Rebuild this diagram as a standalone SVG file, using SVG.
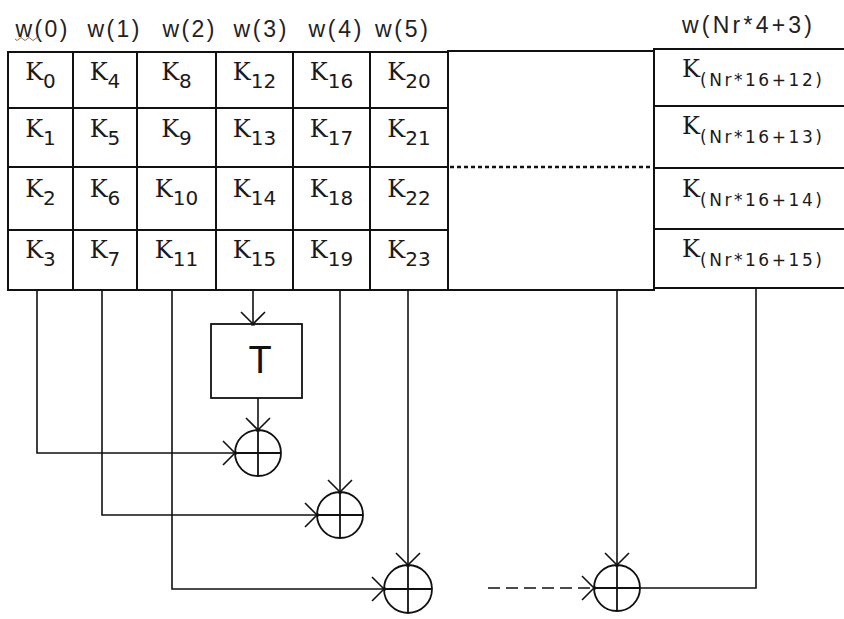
<svg xmlns="http://www.w3.org/2000/svg" width="844" height="619" viewBox="0 0 844 619">
<style>
.cell{fill:#fff;stroke:#111;stroke-width:2}
.k{font-family:"DejaVu Serif",serif;font-size:24px;fill:#1a1a1a;text-anchor:middle}
.kr{font-family:"DejaVu Serif",serif;font-size:24px;fill:#1a1a1a}
.sub{font-family:"DejaVu Sans",sans-serif;font-size:20px}
.subr{font-family:"DejaVu Sans",sans-serif;font-size:17px}
.hd{font-family:"Liberation Sans",sans-serif;font-size:23px;fill:#222;text-anchor:middle}
.ln{fill:none;stroke:#111;stroke-width:1.6}
.xor{fill:none;stroke:#111;stroke-width:1.8}
</style>
<defs>
<marker id="arr" markerUnits="userSpaceOnUse" viewBox="-16 -14 20 28" refX="0" refY="0" markerWidth="20" markerHeight="28" orient="auto">
<path d="M-12,-12 L1.5,1.5 M-12,12 L1.5,-1.5" fill="none" stroke="#111" stroke-width="1.6"/>
</marker>
</defs>
<rect width="844" height="619" fill="#fff"/>

<g id="headers">
<text class="hd" x="41.5" y="37" textLength="52">w(0)</text>
<path d="M15,39 q2,3 4,0 t4,0 t4,0 t4,0 t4,0 t4,0" fill="none" stroke="#7a7a55" stroke-width="1"/>
<text class="hd" x="113.5" y="37" textLength="52">w(1)</text>
<text class="hd" x="188.5" y="37" textLength="52">w(2)</text>
<text class="hd" x="260" y="37" textLength="53">w(3)</text>
<text class="hd" x="335" y="37" textLength="53">w(4)</text>
<text class="hd" x="401.5" y="37" textLength="53">w(5)</text>
<text class="hd" x="747" y="33" textLength="130">w(Nr*4+3)</text>
</g>

<g id="middle-box">
<rect class="cell" x="448" y="51" width="206" height="239"/>
<line x1="450" y1="167" x2="652" y2="167" stroke="#111" stroke-width="2.6" stroke-dasharray="4 3"/>
</g>

<g id="col0">
<g id="k0"><rect class="cell" x="8" y="52" width="65" height="56"/><text class="k" x="40.5" y="80">K<tspan class="sub" dy="8">0</tspan></text></g>
<g id="k1"><rect class="cell" x="8" y="108" width="65" height="59"/><text class="k" x="40.5" y="137">K<tspan class="sub" dy="8">1</tspan></text></g>
<g id="k2"><rect class="cell" x="8" y="167" width="65" height="63"/><text class="k" x="40.5" y="197">K<tspan class="sub" dy="8">2</tspan></text></g>
<g id="k3"><rect class="cell" x="8" y="230" width="65" height="60"/><text class="k" x="40.5" y="258">K<tspan class="sub" dy="8">3</tspan></text></g>
</g>
<g id="col1">
<g id="k4"><rect class="cell" x="73" y="52" width="64" height="56"/><text class="k" x="105" y="80">K<tspan class="sub" dy="8">4</tspan></text></g>
<g id="k5"><rect class="cell" x="73" y="108" width="64" height="59"/><text class="k" x="105" y="137">K<tspan class="sub" dy="8">5</tspan></text></g>
<g id="k6"><rect class="cell" x="73" y="167" width="64" height="63"/><text class="k" x="105" y="197">K<tspan class="sub" dy="8">6</tspan></text></g>
<g id="k7"><rect class="cell" x="73" y="230" width="64" height="60"/><text class="k" x="105" y="258">K<tspan class="sub" dy="8">7</tspan></text></g>
</g>
<g id="col2">
<g id="k8"><rect class="cell" x="137" y="52" width="79" height="56"/><text class="k" x="176.5" y="80">K<tspan class="sub" dy="8">8</tspan></text></g>
<g id="k9"><rect class="cell" x="137" y="108" width="79" height="59"/><text class="k" x="176.5" y="137">K<tspan class="sub" dy="8">9</tspan></text></g>
<g id="k10"><rect class="cell" x="137" y="167" width="79" height="63"/><text class="k" x="176.5" y="197">K<tspan class="sub" dy="8">10</tspan></text></g>
<g id="k11"><rect class="cell" x="137" y="230" width="79" height="60"/><text class="k" x="176.5" y="258">K<tspan class="sub" dy="8">11</tspan></text></g>
</g>
<g id="col3">
<g id="k12"><rect class="cell" x="216" y="52" width="77" height="56"/><text class="k" x="254.5" y="80">K<tspan class="sub" dy="8">12</tspan></text></g>
<g id="k13"><rect class="cell" x="216" y="108" width="77" height="59"/><text class="k" x="254.5" y="137">K<tspan class="sub" dy="8">13</tspan></text></g>
<g id="k14"><rect class="cell" x="216" y="167" width="77" height="63"/><text class="k" x="254.5" y="197">K<tspan class="sub" dy="8">14</tspan></text></g>
<g id="k15"><rect class="cell" x="216" y="230" width="77" height="60"/><text class="k" x="254.5" y="258">K<tspan class="sub" dy="8">15</tspan></text></g>
</g>
<g id="col4">
<g id="k16"><rect class="cell" x="293" y="52" width="77" height="56"/><text class="k" x="331.5" y="80">K<tspan class="sub" dy="8">16</tspan></text></g>
<g id="k17"><rect class="cell" x="293" y="108" width="77" height="59"/><text class="k" x="331.5" y="137">K<tspan class="sub" dy="8">17</tspan></text></g>
<g id="k18"><rect class="cell" x="293" y="167" width="77" height="63"/><text class="k" x="331.5" y="197">K<tspan class="sub" dy="8">18</tspan></text></g>
<g id="k19"><rect class="cell" x="293" y="230" width="77" height="60"/><text class="k" x="331.5" y="258">K<tspan class="sub" dy="8">19</tspan></text></g>
</g>
<g id="col5">
<g id="k20"><rect class="cell" x="370" y="52" width="78" height="56"/><text class="k" x="409" y="80">K<tspan class="sub" dy="8">20</tspan></text></g>
<g id="k21"><rect class="cell" x="370" y="108" width="78" height="59"/><text class="k" x="409" y="137">K<tspan class="sub" dy="8">21</tspan></text></g>
<g id="k22"><rect class="cell" x="370" y="167" width="78" height="63"/><text class="k" x="409" y="197">K<tspan class="sub" dy="8">22</tspan></text></g>
<g id="k23"><rect class="cell" x="370" y="230" width="78" height="60"/><text class="k" x="409" y="258">K<tspan class="sub" dy="8">23</tspan></text></g>
</g>
<g id="colN">
<g id="kn12"><rect class="cell" x="654" y="49" width="194" height="57"/><text class="kr" x="682" y="77">K<tspan class="subr" dy="9" textLength="122">(Nr*16+12)</tspan></text></g>
<g id="kn13"><rect class="cell" x="654" y="106" width="194" height="62"/><text class="kr" x="682" y="134">K<tspan class="subr" dy="9" textLength="122">(Nr*16+13)</tspan></text></g>
<g id="kn14"><rect class="cell" x="654" y="168" width="194" height="61"/><text class="kr" x="682" y="197">K<tspan class="subr" dy="9" textLength="122">(Nr*16+14)</tspan></text></g>
<g id="kn15"><rect class="cell" x="654" y="229" width="194" height="59"/><text class="kr" x="682" y="257">K<tspan class="subr" dy="9" textLength="122">(Nr*16+15)</tspan></text></g>
</g>

<g id="T">
<rect x="211" y="324" width="91" height="74" fill="#fff" stroke="#111" stroke-width="1.8"/>
<text x="260" y="373" font-family="Liberation Sans, sans-serif" font-size="38" fill="#111" text-anchor="middle">T</text>
</g>

<g id="xor1"><circle class="xor" cx="258" cy="453" r="23"/><path class="xor" d="M258,430 V476 M235,453 H281"/></g>
<g id="xor2"><circle class="xor" cx="340" cy="515" r="23"/><path class="xor" d="M340,492 V538 M317,515 H363"/></g>
<g id="xor3"><circle class="xor" cx="408" cy="589" r="24"/><path class="xor" d="M408,565 V613 M384,589 H432"/></g>
<g id="xor4"><circle class="xor" cx="617" cy="588" r="23"/><path class="xor" d="M617,565 V611 M594,588 H640"/></g>

<g id="connectors">
<path class="ln" d="M37,290 V453 H235" marker-end="url(#arr)"/>
<path class="ln" d="M102,290 V515 H317" marker-end="url(#arr)"/>
<path class="ln" d="M172,290 V589 H384" marker-end="url(#arr)"/>
<path class="ln" d="M253,290 V324" marker-end="url(#arr)"/>
<path class="ln" d="M258,398 V430" marker-end="url(#arr)"/>
<path class="ln" d="M340,290 V492" marker-end="url(#arr)"/>
<path class="ln" d="M408,290 V565" marker-end="url(#arr)"/>
<path class="ln" d="M617,290 V565" marker-end="url(#arr)"/>
<path class="ln" d="M756,288 V588 H640"/>
<path class="ln" d="M488,588 H594" stroke-dasharray="12 6" marker-end="url(#arr)"/>
</g>
</svg>
